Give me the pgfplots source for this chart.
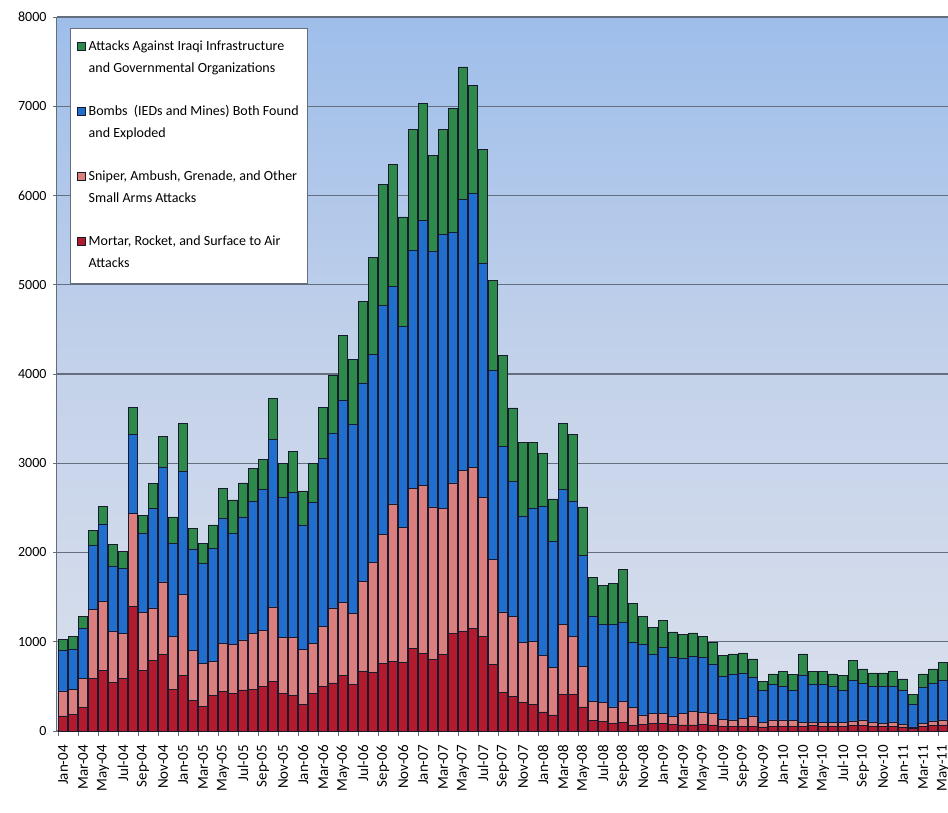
\documentclass[border=0pt]{standalone}
\usepackage{pgfplots}
\pgfplotsset{compat=1.18}
\usepackage{pgfplotstable}
\usepackage{fontspec}
\setmainfont{Carlito}

\definecolor{cGreen}{RGB}{46,138,74}
\definecolor{cBlue}{RGB}{32,110,205}
\definecolor{cPink}{RGB}{218,126,126}
\definecolor{cRed}{RGB}{178,26,46}
\definecolor{cEdge}{RGB}{25,25,45}
\definecolor{cGrid}{RGB}{100,110,125}
\definecolor{bgTop}{RGB}{158,190,234}
\definecolor{bgMid}{RGB}{196,210,234}
\definecolor{bgBot}{RGB}{218,224,236}

% cumulative tops of each stack (red < pink < blue < green), month 0 = Jan-04
\pgfplotstableread{
m red pink blue green
0 170 450 900 1030
1 190 470 920 1060
2 260 590 1150 1280
3 590 1360 2080 2250
4 680 1450 2320 2520
5 545 1120 1850 2090
6 590 1090 1820 2010
7 1400 2440 3320 3630
8 680 1330 2210 2420
9 790 1380 2490 2770
10 860 1670 2960 3300
11 470 1060 2100 2400
12 620 1530 2910 3450
13 340 900 2040 2270
14 280 760 1880 2100
15 400 780 2050 2310
16 440 980 2380 2720
17 425 970 2210 2590
18 460 1020 2400 2780
19 470 1090 2570 2940
20 500 1130 2710 3040
21 560 1390 3270 3730
22 420 1050 2620 3000
23 400 1050 2670 3130
24 300 910 2310 2690
25 420 980 2560 3000
26 500 1170 3050 3630
27 540 1380 3340 3980
28 620 1440 3710 4430
29 525 1315 3434 4160
30 670 1680 3900 4810
31 655 1890 4220 5310
32 760 2200 4770 6120
33 780 2545 4985 6350
34 770 2280 4535 5760
35 930 2720 5390 6740
36 870 2750 5720 7030
37 800 2510 5370 6450
38 860 2490 5560 6740
39 1090 2780 5590 6980
40 1120 2920 5960 7440
41 1150 2950 6020 7230
42 1060 2620 5240 6520
43 750 1920 4040 5050
44 435 1335 3185 4210
45 385 1285 2800 3620
46 320 990 2410 3230
47 300 1000 2500 3230
48 215 850 2520 3110
49 180 710 2130 2600
50 410 1190 2710 3450
51 410 1060 2570 3320
52 270 720 1970 2510
53 115 330 1290 1720
54 110 320 1190 1630
55 85 270 1190 1650
56 100 330 1220 1810
57 65 265 990 1430
58 75 180 970 1285
59 83 199 865 1165
60 83 195 940 1240
61 75 170 830 1110
62 68 195 820 1080
63 68 218 838 1100
64 75 207 827 1064
65 68 195 751 989
66 56 131 609 846
67 56 124 639 865
68 56 139 646 876
69 56 169 601 808
70 45 94 451 556
71 56 124 519 639
72 56 124 500 669
73 56 120 451 630
74 56 94 628 865
75 64 101 526 669
76 56 94 519 669
77 56 94 500 639
78 56 94 459 620
79 64 113 564 789
80 64 124 534 695
81 56 101 500 650
82 49 86 500 650
83 56 101 500 665
84 45 75 451 583
85 30 45 301 413
86 53 83 489 639
87 64 113 534 695
88 68 124 564 770
}\attacks

\begin{document}
\begin{tikzpicture}
\useasboundingbox (-57pt,-81pt) rectangle (891pt,731pt);
\begin{axis}[
  at={(0pt,0pt)}, anchor=south west,
  scale only axis, width=891pt, height=714pt,
  xmin=-0.6, xmax=88.5, ymin=0, ymax=8000,
  ybar, bar width=0.9,
  axis lines=left, axis line style={-, draw=cGrid, line width=1pt},
  axis background/.style={top color=bgTop, bottom color=bgBot, middle color=bgMid},
  ymajorgrids, grid style={draw=cGrid, line width=1.1pt},
  ytick={0,1000,...,8000},
  /pgf/number format/1000 sep={},
  /pgf/number format/assume math mode=true,
  tick align=outside, major tick length=4pt,
  tick style={draw=cGrid, line width=0.8pt},
  xtick={0,2,...,88},
  xticklabels={Jan-04,Mar-04,May-04,Jul-04,Sep-04,Nov-04,
    Jan-05,Mar-05,May-05,Jul-05,Sep-05,Nov-05,
    Jan-06,Mar-06,May-06,Jul-06,Sep-06,Nov-06,
    Jan-07,Mar-07,May-07,Jul-07,Sep-07,Nov-07,
    Jan-08,Mar-08,May-08,Jul-08,Sep-08,Nov-08,
    Jan-09,Mar-09,May-09,Jul-09,Sep-09,Nov-09,
    Jan-10,Mar-10,May-10,Jul-10,Sep-10,Nov-10,
    Jan-11,Mar-11,May-11},
  major x tick style={draw=none},
  minor xtick={-0.5,1.5,...,87.5},
  minor tick length=5pt,
  minor x tick style={draw=cGrid, line width=0.8pt},
  xticklabel style={rotate=90, anchor=east, inner xsep=10pt, font=\fontsize{15}{18}\selectfont},
  yticklabel style={font=\fontsize{14}{17}\selectfont, xshift=-3pt},
  legend style={at={(0.0146,0.985)}, anchor=north west,
    draw=cGrid, line width=1.2pt, fill=white,
    font=\fontsize{14}{17}\selectfont,
    nodes={inner sep=3pt, text height=12pt, text depth=28pt},
    cells={anchor=base west},
    row sep=19pt, inner xsep=6pt, inner ysep=7pt},
  legend image code/.code={\draw[#1, line width=0.6pt] (0pt,0pt) rectangle (8.5pt,8.5pt);},
  every axis plot/.append style={draw=cEdge, line width=0.6pt, bar shift=0pt},
]
\addplot[fill=cGreen] table[x=m, y=green] {\attacks};
\addlegendentry{\begin{tabular}[t]{@{}l@{}}Attacks Against Iraqi Infrastructure\\[5pt]and Governmental Organizations\end{tabular}}
\addplot[fill=cBlue] table[x=m, y=blue] {\attacks};
\addlegendentry{\begin{tabular}[t]{@{}l@{}}Bombs\ \ (IEDs and Mines) Both Found\\[5pt]and Exploded\end{tabular}}
\addplot[fill=cPink] table[x=m, y=pink] {\attacks};
\addlegendentry{\begin{tabular}[t]{@{}l@{}}Sniper, Ambush, Grenade, and Other\\[5pt]Small Arms Attacks\end{tabular}}
\addplot[fill=cRed] table[x=m, y=red] {\attacks};
\addlegendentry{\begin{tabular}[t]{@{}l@{}}Mortar, Rocket, and Surface to Air\\[5pt]Attacks\end{tabular}}
\end{axis}
\end{tikzpicture}
\end{document}
